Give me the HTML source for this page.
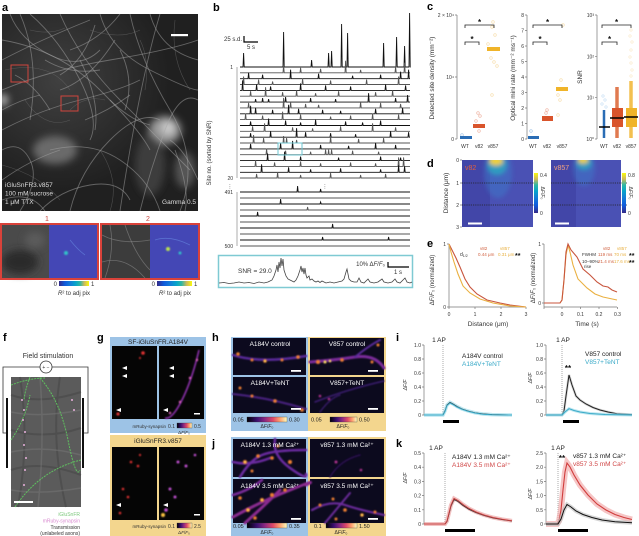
<!DOCTYPE html>
<html><head><meta charset="utf-8">
<style>
html,body{margin:0;padding:0;background:#fff;}
svg{display:block;font-family:"Liberation Sans","DejaVu Sans",sans-serif;}
.pl{font-weight:bold;font-size:11px;fill:#000}
.t{font-size:6px;fill:#333}
.s{font-size:5px;fill:#333}
.w{font-size:6.5px;fill:#fff}
</style></head><body>
<svg width="639" height="536" viewBox="0 0 639 536" xmlns="http://www.w3.org/2000/svg">
<defs>
 <clipPath id="ca"><rect x="2" y="14" width="196" height="197"/></clipPath>
 <clipPath id="cd1"><rect x="462" y="160" width="71" height="67"/></clipPath>
 <clipPath id="cd2"><rect x="551" y="160" width="70" height="67"/></clipPath>
 <filter id="b4" x="-50%" y="-50%" width="200%" height="200%"><feGaussianBlur stdDeviation="4"/></filter>
 <filter id="b2" x="-50%" y="-50%" width="200%" height="200%"><feGaussianBlur stdDeviation="2"/></filter>
 <filter id="b1" x="-50%" y="-50%" width="200%" height="200%"><feGaussianBlur stdDeviation="0.7"/></filter>
 <radialGradient id="ga" cx="60" cy="80" r="110" gradientUnits="userSpaceOnUse">
  <stop offset="0" stop-color="#404040"/><stop offset="1" stop-color="#202020"/></radialGradient>
 <linearGradient id="par" x1="0" x2="1" y1="0" y2="0">
  <stop offset="0" stop-color="#352a87"/><stop offset=".2" stop-color="#0f5cdd"/><stop offset=".4" stop-color="#1481d6"/>
  <stop offset=".55" stop-color="#06a4ca"/><stop offset=".7" stop-color="#2eb7a4"/><stop offset=".85" stop-color="#d1bb59"/><stop offset="1" stop-color="#f9fb0e"/></linearGradient>
 <linearGradient id="parv" x1="0" x2="0" y1="1" y2="0">
  <stop offset="0" stop-color="#352a87"/><stop offset=".2" stop-color="#0f5cdd"/><stop offset=".4" stop-color="#1481d6"/>
  <stop offset=".55" stop-color="#06a4ca"/><stop offset=".7" stop-color="#2eb7a4"/><stop offset=".85" stop-color="#d1bb59"/><stop offset="1" stop-color="#f9fb0e"/></linearGradient>
 <linearGradient id="inf" x1="0" x2="1" y1="0" y2="0">
  <stop offset="0" stop-color="#000004"/><stop offset=".25" stop-color="#3b0f70"/><stop offset=".45" stop-color="#8c2981"/>
  <stop offset=".65" stop-color="#de4968"/><stop offset=".82" stop-color="#fe9f6d"/><stop offset="1" stop-color="#fcfdbf"/></linearGradient>
</defs>

<!-- ============ PANEL A ============ -->
<text class="pl" x="2" y="11">a</text>
<g clip-path="url(#ca)">
 <rect x="2" y="14" width="196" height="197" fill="url(#ga)"/>
 <g filter="url(#b4)">
  <ellipse cx="55" cy="150" rx="22" ry="14" fill="#6a6a6a"/>
  <ellipse cx="165" cy="130" rx="16" ry="14" fill="#9a9a9a"/>
  <ellipse cx="168" cy="128" rx="6" ry="6" fill="#d0d0d0"/>
  <ellipse cx="3" cy="100" rx="5" ry="6" fill="#bbb"/>
  <ellipse cx="150" cy="165" rx="15" ry="30" fill="#3c3c3c"/>
  <ellipse cx="185" cy="170" rx="10" ry="18" fill="#555"/>
 </g>
 <g stroke="#a8a8a8" stroke-opacity=".5" fill="none" stroke-width=".9">
  <path d="M2,60 Q40,40 90,20"/><path d="M2,90 Q50,70 110,60 T198,40"/><path d="M20,14 Q40,60 30,120"/>
  <path d="M60,14 Q80,60 120,100 T190,170"/><path d="M2,130 Q40,110 80,100 T140,80"/><path d="M100,14 Q110,50 150,70 T198,90"/>
  <path d="M130,14 Q140,60 170,110 T180,211"/><path d="M2,180 Q30,160 60,150"/><path d="M50,150 Q90,140 120,160 T160,211"/>
  <path d="M70,211 Q80,170 110,140 T160,120"/><path d="M140,211 Q150,170 165,130 T198,100"/><path d="M2,40 Q60,50 100,90 T150,150"/>
  <path d="M30,14 Q60,40 80,80 T90,140"/><path d="M150,14 Q160,50 198,60"/><path d="M160,14 Q140,80 120,211"/>
  <path d="M2,110 Q20,100 40,95"/><path d="M110,100 Q130,120 150,125"/><path d="M170,140 Q185,150 198,180"/>
  <path d="M175,150 Q190,190 185,211"/><path d="M2,200 Q30,190 45,211"/><path d="M80,60 Q100,100 95,130"/>
  <path d="M60,90 Q90,80 115,40"/><path d="M10,14 Q20,40 50,55 T100,50"/><path d="M40,211 Q60,190 90,185 T130,200"/>
  <path d="M2,150 Q20,140 30,160 T20,211"/><path d="M120,14 Q100,40 70,50"/><path d="M85,120 Q110,110 130,95"/>
  <path d="M45,60 Q70,75 100,70"/><path d="M15,75 Q35,85 50,110"/><path d="M95,25 Q85,60 60,75"/><path d="M120,50 Q135,80 125,110"/>
 </g>
 <g stroke="#777" stroke-opacity=".5" fill="none" stroke-width=".6">
  <path d="M5,70 Q50,60 70,90"/><path d="M90,30 Q120,40 140,30"/><path d="M25,100 Q45,130 70,120"/>
  <path d="M100,150 Q120,180 110,211"/><path d="M175,20 Q170,60 190,90"/><path d="M2,165 Q40,175 60,200"/>
  <path d="M30,30 Q50,35 65,28"/><path d="M70,110 Q85,95 105,100"/><path d="M140,40 Q150,60 145,90"/>
 </g>
</g>
<rect x="11" y="65" width="17" height="17" fill="none" stroke="#d0453d" stroke-width="1"/>
<rect x="61" y="96" width="17" height="15" fill="none" stroke="#d0453d" stroke-width="1"/>
<rect x="171" y="34" width="17" height="2.2" fill="#fff"/>
<text x="5" y="187" style="font-size:6.5px;fill:#ddd">iGluSnFR3.v857</text>
<text x="5" y="195.5" style="font-size:6.5px;fill:#ddd">100 mM sucrose</text>
<text x="5" y="204" style="font-size:6.5px;fill:#ddd">1 μM TTX</text>
<text x="196" y="204" text-anchor="end" style="font-size:6.5px;fill:#ddd">Gamma 0.5</text>

<text x="47" y="221" text-anchor="middle" style="font-size:7px;fill:#c9473f">1</text>
<text x="148" y="221" text-anchor="middle" style="font-size:7px;fill:#c9473f">2</text>
<!-- inset 1 -->
<rect x="2" y="225" width="47" height="53" fill="#4a4a4a"/>
<ellipse cx="20" cy="262" rx="18" ry="12" fill="#2c2c2c" filter="url(#b4)"/>
<ellipse cx="35" cy="240" rx="10" ry="8" fill="#5c5c5c" filter="url(#b4)"/>
<rect x="49" y="225" width="48" height="53" fill="#4447b5"/>
<circle cx="66" cy="253" r="2" fill="#30c0c8" filter="url(#b1)"/>
<path d="M70,240 Q78,250 85,255" stroke="#5a70d0" stroke-width=".8" fill="none"/>
<rect x="1" y="224" width="97" height="55" fill="none" stroke="#d9423a" stroke-width="2"/>
<!-- inset 2 -->
<rect x="102" y="225" width="48" height="53" fill="#3c3c3c"/>
<g stroke="#8a8a8a" stroke-opacity=".6" fill="none" stroke-width=".8">
 <path d="M102,235 Q120,245 150,240"/><path d="M110,225 Q115,250 105,278"/><path d="M125,225 Q135,255 150,270"/><path d="M102,262 Q125,255 145,278"/>
</g>
<rect x="150" y="225" width="48" height="53" fill="#4447b5"/>
<circle cx="168" cy="249" r="2" fill="#b8e050" filter="url(#b1)"/>
<circle cx="180" cy="253" r="1.5" fill="#30c0c8" filter="url(#b1)"/>
<path d="M155,240 Q170,235 190,245" stroke="#5a70d0" stroke-width=".8" fill="none"/>
<rect x="101" y="224" width="98" height="55" fill="none" stroke="#d9423a" stroke-width="2"/>
<!-- colorbars -->
<rect x="59" y="281" width="30" height="5" fill="url(#par)"/>
<text class="t" x="57" y="286" text-anchor="end">0</text><text class="t" x="91" y="286">1</text>
<text class="t" x="74" y="295" text-anchor="middle"><tspan font-style="italic">R</tspan>² to adj pix</text>
<rect x="157" y="281" width="35" height="5" fill="url(#par)"/>
<text class="t" x="155" y="286" text-anchor="end">0</text><text class="t" x="194" y="286">1</text>
<text class="t" x="175" y="295" text-anchor="middle"><tspan font-style="italic">R</tspan>² to adj pix</text>

<!-- ============ PANEL B ============ -->
<text class="pl" x="213" y="11">b</text>
<text class="t" x="242" y="41" text-anchor="end">25 s.d.</text>
<path d="M244,36 V42 H258" stroke="#000" stroke-width="1.2" fill="none"/>
<text class="t" x="251" y="49" text-anchor="middle">5 s</text>
<text class="s" x="233" y="69" text-anchor="end">1</text>
<text class="s" x="233" y="180" text-anchor="end">20</text>
<line x1="237" y1="67" x2="237" y2="178" stroke="#999" stroke-width=".8"/>
<text class="s" x="230" y="188" text-anchor="middle">⋮</text>
<text class="s" x="325" y="188" text-anchor="middle">⋮</text>
<text class="s" x="233" y="194" text-anchor="end">491</text>
<text class="s" x="233" y="248" text-anchor="end">500</text>
<line x1="237" y1="192" x2="237" y2="246" stroke="#999" stroke-width=".8"/>
<text class="t" transform="translate(211,153) rotate(-90)" text-anchor="middle">Site no. (sorted by SNR)</text>
<g fill="none" stroke-width=".9" stroke-linejoin="miter">
<path stroke="#111" d="M240,67 H243 l.6,-14 l.6,14 H283 l.6,-35 l.6,35 H311 l.6,-7 l.6,7 H328 l.6,-14 l.6,14 H331 l.6,-16 l.6,16 H341 l.6,-43 l.6,43 H347 l.6,-34 l.6,34 H383 l.6,-24 l.6,24 H396 l.6,-30 l.6,30 H404 l.6,-21 l.6,21 H409 l.6,-54 l.6,54 H410"/>
<path stroke="#555" d="M240,72.8 H283 l.6,-8 l.6,8 H300 l.6,-5 l.6,5 H320 l.6,-4 l.6,4 H345 l.6,-12 l.6,12 H360 l.6,-3 l.6,3 H395 l.6,-6 l.6,6 H404 l.6,-10 l.6,10 H410"/>
<path stroke="#111" d="M240,78.7 H248 l.6,-6 l.6,6 H262 l.6,-4 l.6,4 H290 l.6,-9 l.6,9 H318 l.6,-5 l.6,5 H352 l.6,-3 l.6,3 H380 l.6,-4 l.6,4 H400 l.6,-7 l.6,7 H408 l.6,-9 l.6,9 H410"/>
<path stroke="#555" d="M240,84.5 H243 l.6,-8 l.6,8 H258 l.6,-5 l.6,5 H272 l.6,-3 l.6,3 H302 l.6,-6 l.6,6 H330 l.6,-4 l.6,4 H366 l.6,-5 l.6,5 H398 l.6,-8 l.6,8 H410"/>
<path stroke="#111" d="M240,90.4 H242 l.6,-10 l.6,10 H256 l.6,-6 l.6,6 H270 l.6,-4 l.6,4 H300 l.6,-7 l.6,7 H325 l.6,-5 l.6,5 H350 l.6,-4 l.6,4 H385 l.6,-6 l.6,6 H405 l.6,-5 l.6,5 H410"/>
<path stroke="#555" d="M240,96.2 H250 l.6,-5 l.6,5 H265 l.6,-9 l.6,9 H282 l.6,-4 l.6,4 H296 l.6,-6 l.6,6 H315 l.6,-3 l.6,3 H338 l.6,-5 l.6,5 H375 l.6,-4 l.6,4 H392 l.6,-6 l.6,6 H410"/>
<path stroke="#111" d="M240,102.1 H255 l.6,-3 l.6,3 H262 l.6,-4 l.6,4 H268 l.6,-3 l.6,3 H285 l.6,-5 l.6,5 H310 l.6,-4 l.6,4 H335 l.6,-3 l.6,3 H368 l.6,-9 l.6,9 H395 l.6,-4 l.6,4 H407 l.6,-7 l.6,7 H410"/>
<path stroke="#555" d="M240,107.9 H248 l.6,-5 l.6,5 H283 l.6,-10 l.6,10 H290 l.6,-6 l.6,6 H305 l.6,-4 l.6,4 H318 l.6,-3 l.6,3 H360 l.6,-6 l.6,6 H380 l.6,-5 l.6,5 H400 l.6,-4 l.6,4 H410"/>
<path stroke="#111" d="M240,113.8 H250 l.6,-8 l.6,8 H255 l.6,-6 l.6,6 H272 l.6,-4 l.6,4 H288 l.6,-9 l.6,9 H298 l.6,-5 l.6,5 H322 l.6,-4 l.6,4 H340 l.6,-3 l.6,3 H375 l.6,-5 l.6,5 H402 l.6,-6 l.6,6 H410"/>
<path stroke="#555" d="M240,119.6 H245 l.6,-6 l.6,6 H262 l.6,-4 l.6,4 H282 l.6,-8 l.6,8 H300 l.6,-5 l.6,5 H330 l.6,-3 l.6,3 H350 l.6,-4 l.6,4 H372 l.6,-6 l.6,6 H398 l.6,-5 l.6,5 H410"/>
<path stroke="#111" d="M240,125.5 H250 l.6,-4 l.6,4 H268 l.6,-7 l.6,7 H285 l.6,-5 l.6,5 H300 l.6,-3 l.6,3 H315 l.6,-6 l.6,6 H345 l.6,-4 l.6,4 H362 l.6,-3 l.6,3 H380 l.6,-5 l.6,5 H410"/>
<path stroke="#555" d="M240,131.3 H252 l.6,-5 l.6,5 H264 l.6,-8 l.6,8 H292 l.6,-4 l.6,4 H312 l.6,-3 l.6,3 H340 l.6,-5 l.6,5 H372 l.6,-8 l.6,8 H395 l.6,-4 l.6,4 H410"/>
<path stroke="#111" d="M240,137.2 H250 l.6,-4 l.6,4 H270 l.6,-6 l.6,6 H296 l.6,-9 l.6,9 H305 l.6,-5 l.6,5 H330 l.6,-4 l.6,4 H355 l.6,-3 l.6,3 H390 l.6,-6 l.6,6 H408 l.6,-5 l.6,5 H410"/>
<path stroke="#555" d="M240,143 H253 l.6,-8 l.6,8 H263 l.6,-5 l.6,5 H283 l.6,-7 l.6,7 H286 l.6,-5 l.6,5 H296 l.6,-3 l.6,3 H330 l.6,-7 l.6,7 H358 l.6,-4 l.6,4 H383 l.6,-5 l.6,5 H410"/>
<path stroke="#111" d="M240,148.9 H250 l.6,-5 l.6,5 H280 l.6,-6 l.6,6 H292 l.6,-8 l.6,8 H320 l.6,-4 l.6,4 H348 l.6,-3 l.6,3 H375 l.6,-6 l.6,6 H395 l.6,-4 l.6,4 H410"/>
<path stroke="#555" d="M240,154.7 H266 l.6,-6 l.6,6 H285 l.6,-4 l.6,4 H310 l.6,-3 l.6,3 H325 l.6,-5 l.6,5 H328 l.6,-5 l.6,5 H331 l.6,-5 l.6,5 H352 l.6,-4 l.6,4 H378 l.6,-3 l.6,3 H410"/>
<path stroke="#111" d="M240,160.6 H267 l.6,-7 l.6,7 H284 l.6,-9 l.6,9 H300 l.6,-4 l.6,4 H338 l.6,-3 l.6,3 H380 l.6,-4 l.6,4 H400 l.6,-3 l.6,3 H410"/>
<path stroke="#555" d="M240,166.4 H255 l.6,-6 l.6,6 H274 l.6,-4 l.6,4 H300 l.6,-5 l.6,5 H320 l.6,-3 l.6,3 H350 l.6,-4 l.6,4 H375 l.6,-3 l.6,3 H398 l.6,-9 l.6,9 H403 l.6,-9 l.6,9 H410"/>
<path stroke="#111" d="M240,172.3 H261 l.6,-8 l.6,8 H288 l.6,-5 l.6,5 H310 l.6,-3 l.6,3 H340 l.6,-4 l.6,4 H380 l.6,-3 l.6,3 H398 l.6,-7 l.6,7 H404 l.6,-6 l.6,6 H410"/>
<path stroke="#555" d="M240,178 H256 l.6,-4 l.6,4 H277 l.6,-6 l.6,6 H300 l.6,-3 l.6,3 H330 l.6,-5 l.6,5 H360 l.6,-3 l.6,3 H385 l.6,-4 l.6,4 H410"/>
<path stroke="#111" d="M240,192 H297 l.6,-6 l.6,6 H320 l.6,-3 l.6,3 H410"/>
<path stroke="#555" d="M240,198 H410"/>
<path stroke="#111" d="M240,204 H280 l.6,-5 l.6,5 H320 l.6,-2 l.6,2 H410"/>
<path stroke="#555" d="M240,210 H307 l.6,-3 l.6,3 H410"/>
<path stroke="#111" d="M240,216 H257 l.6,-4 l.6,4 H410"/>
<path stroke="#555" d="M240,222 H410"/>
<path stroke="#111" d="M240,228 H332 l.6,-4 l.6,4 H410"/>
<path stroke="#555" d="M240,234 H410"/>
<path stroke="#111" d="M240,240 H322 l.6,-3 l.6,3 H388 l.6,-3 l.6,3 H410"/>
<path stroke="#555" d="M240,246 H410"/>
</g>
<rect x="278" y="143" width="24" height="12" fill="none" stroke="#6fc5d0" stroke-width="1"/>
<rect x="218.5" y="255.5" width="194" height="32" fill="none" stroke="#7fcad3" stroke-width="1.5"/>
<text x="238" y="273" style="font-size:6.5px;fill:#333">SNR = 29.0</text>
<text x="385" y="266" text-anchor="end" style="font-size:6px;fill:#333">10% Δ<tspan font-style="italic">F</tspan>/<tspan font-style="italic">F</tspan>₀</text>
<path d="M388,262 V267 H409" stroke="#000" stroke-width="1.2" fill="none"/>
<text class="t" x="398" y="274" text-anchor="middle">1 s</text>
<polyline fill="none" stroke="#444" stroke-width=".8" points="219,283 224,282.5 229,283.5 234,283 239,282 244,283 249,282.5 254,283.5 259,282 264,283 268,282 272,280 274,276 276,270 277,265 278,272 279,262 280,268 281,258 282,266 283,259 284,270 285,273 286,276 288,279 290,280 292,281 294,282 296,280 298,276 300,270 301,266 302,272 303,268 304,274 305,268 306,275 307,278 309,276 310,280 312,279 314,281 316,282 318,281 320,282.5 322,281 324,282 326,283 330,282 334,283 338,282 342,281 344,279 346,272 347,269 348,274 349,279 351,281 354,282 357,282 359,278 361,282 364,283 368,279 370,282 374,283 378,282 382,279 384,282 388,283 392,282 395,279 397,282 400,283 403,280 405,278 407,282 410,283 412,282"/>

<!-- ============ PANEL C ============ -->
<text class="pl" x="427" y="10">c</text>
<g stroke="#777" stroke-width=".7" fill="none">
 <path d="M457,15 V139 M455,15 H457 M455,77 H457 M455,139 H457"/>
 <path d="M527,15 V139 M525,15 H527 M525,30.5 H527 M525,46 H527 M525,61.5 H527 M525,77 H527 M525,92.5 H527 M525,108 H527 M525,123.5 H527 M525,139 H527"/>
 <path d="M597,15 V139 M595,15 H597 M595,56.3 H597 M595,97.7 H597 M595,139 H597"/>
</g>
<text class="s" x="454" y="17" text-anchor="end">2 × 10⁴</text>
<text class="s" x="454" y="79" text-anchor="end">10⁴</text>
<text class="s" x="454" y="141" text-anchor="end">0</text>
<text class="t" transform="translate(434,78) rotate(-90)" text-anchor="middle" style="font-size:6.5px">Detected site density (mm⁻²)</text>
<g class="s" text-anchor="end">
 <text x="524" y="17">8</text><text x="524" y="32.5">7</text><text x="524" y="48">6</text><text x="524" y="63.5">5</text>
 <text x="524" y="79">4</text><text x="524" y="94.5">3</text><text x="524" y="110">2</text><text x="524" y="125.5">1</text><text x="524" y="141">0</text>
</g>
<text class="t" transform="translate(515,78) rotate(-90)" text-anchor="middle" style="font-size:6.5px">Optical mini rate (mm⁻² ms⁻¹)</text>
<text class="s" x="594" y="17" text-anchor="end">10³</text>
<text class="s" x="594" y="58.3" text-anchor="end">10²</text>
<text class="s" x="594" y="99.7" text-anchor="end">10¹</text>
<text class="s" x="594" y="141" text-anchor="end">10⁰</text>
<text class="t" transform="translate(582,77) rotate(-90)" text-anchor="middle" style="font-size:6.5px">SNR</text>
<g class="s" text-anchor="middle">
 <text x="465" y="148">WT</text><text x="479" y="148">v82</text><text x="493" y="148">v857</text>
 <text x="533" y="148">WT</text><text x="547" y="148">v82</text><text x="562" y="148">v857</text>
 <text x="604" y="148">WT</text><text x="617" y="148">v82</text><text x="631" y="148">v857</text>
</g>
<!-- dots -->
<g fill="none" stroke-width=".6" opacity=".55">
 <g stroke="#f0c060"><circle cx="493" cy="22" r="1.3"/><circle cx="492" cy="27" r="1.3"/><circle cx="495" cy="35" r="1.3"/><circle cx="488" cy="44" r="1.3"/><circle cx="491" cy="58" r="1.3"/><circle cx="494" cy="62" r="1.3"/><circle cx="497" cy="66" r="1.3"/><circle cx="492" cy="95" r="1.3"/>
 <circle cx="563" cy="25" r="1.3"/><circle cx="561" cy="80" r="1.3"/><circle cx="558" cy="95" r="1.3"/><circle cx="560" cy="100" r="1.3"/><circle cx="558" cy="115" r="1.3"/></g>
 <g stroke="#e07050"><circle cx="478" cy="113" r="1.3"/><circle cx="480" cy="116" r="1.3"/><circle cx="476" cy="121" r="1.3"/><circle cx="479" cy="131" r="1.3"/><circle cx="547" cy="110" r="1.3"/><circle cx="546" cy="113" r="1.3"/></g>
 <g stroke="#5090d0"><circle cx="462" cy="135" r="1.3"/><circle cx="531" cy="131" r="1.3"/></g>
</g>
<rect x="460" y="136" width="12" height="3" fill="#2a6db5"/>
<rect x="473" y="124" width="12" height="4" fill="#d9542b"/>
<rect x="487" y="47" width="13" height="4" fill="#f0b429"/>
<rect x="528" y="136" width="11" height="3" fill="#2a6db5"/>
<rect x="542" y="116" width="11" height="5" fill="#d9542b"/>
<rect x="556" y="87" width="12" height="4" fill="#f0b429"/>
<!-- SNR plot -->
<g opacity=".35" fill="none" stroke-width=".6">
 <g stroke="#5aa0e0"><circle cx="603" cy="96" r="1.2"/><circle cx="605" cy="100" r="1.2"/><circle cx="602" cy="104" r="1.2"/><circle cx="606" cy="107" r="1.2"/></g>
 <g stroke="#f0c060"><circle cx="631" cy="30" r="1.2"/><circle cx="630" cy="36" r="1.2"/><circle cx="632" cy="42" r="1.2"/><circle cx="631" cy="50" r="1.2"/><circle cx="630" cy="57" r="1.2"/><circle cx="631" cy="63" r="1.2"/><circle cx="632" cy="70" r="1.2"/><circle cx="631" cy="76" r="1.2"/></g>
</g>
<line x1="604" y1="110" x2="604" y2="138" stroke="#2a6db5" stroke-width="2.5"/>
<line x1="617" y1="87" x2="617" y2="138" stroke="#e07a50" stroke-width="3.5"/>
<rect x="612" y="108" width="11" height="19" fill="#d9542b"/>
<line x1="631" y1="81" x2="631" y2="138" stroke="#f3c050" stroke-width="3.5"/>
<rect x="626" y="108" width="11" height="19" fill="#f0b429"/>
<line x1="599" y1="127" x2="610" y2="127" stroke="#000" stroke-width="1.5"/>
<line x1="610" y1="118" x2="624" y2="118" stroke="#000" stroke-width="1.5"/>
<line x1="624" y1="117" x2="638" y2="117" stroke="#000" stroke-width="1.5"/>
<!-- brackets -->
<g stroke="#222" stroke-width=".8" fill="none">
 <path d="M465,28 V25 H494 V28"/><path d="M465,45 V42 H479 V45"/>
 <path d="M533,28 V25 H562 V28"/><path d="M533,45 V42 H547 V45"/>
 <path d="M602,28 V25 H631 V28"/><path d="M602,45 V42 H617 V45"/>
</g>
<g style="font-size:8px;font-weight:bold" text-anchor="middle" fill="#111">
 <text x="479.5" y="25">*</text><text x="472" y="42">*</text>
 <text x="547.5" y="25">*</text><text x="540" y="42">*</text>
 <text x="616.5" y="25">*</text><text x="609.5" y="42">*</text>
</g>

<!-- ============ PANEL D ============ -->
<text class="pl" x="427" y="167">d</text>
<g clip-path="url(#cd1)">
 <rect x="462" y="160" width="71" height="67" fill="#4246a8"/>
 <rect x="490" y="160" width="43" height="67" fill="#4a51b4"/>
 <g filter="url(#b2)">
  <ellipse cx="498" cy="172" rx="14" ry="26" fill="#3a7fcc" opacity=".45"/>
  <ellipse cx="497" cy="165" rx="10" ry="10" fill="#2aa6bf" opacity=".85"/>
  <ellipse cx="496" cy="161" rx="7" ry="4.5" fill="#f0d030"/>
 </g>
</g>
<g clip-path="url(#cd2)">
 <rect x="551" y="160" width="70" height="67" fill="#4246a8"/>
 <rect x="576" y="160" width="45" height="67" fill="#4a51b4"/>
 <g filter="url(#b2)">
  <ellipse cx="584" cy="168" rx="11" ry="18" fill="#3a7fcc" opacity=".45"/>
  <ellipse cx="584" cy="163" rx="8" ry="7" fill="#2aa6bf" opacity=".85"/>
  <ellipse cx="583" cy="160" rx="5.5" ry="3.5" fill="#f0d030"/>
 </g>
</g>
<g stroke="#222" stroke-width=".8" stroke-dasharray="1.2,1" fill="none">
 <path d="M462,183 H539 M462,205 H539 M551,183 H627 M551,205 H627"/>
</g>
<text x="465" y="170" style="font-size:7px;fill:#e0603f">v82</text>
<text x="554" y="170" style="font-size:7px;fill:#f0a080">v857</text>
<rect x="468" y="222.5" width="14" height="2" fill="#fff"/>
<rect x="555" y="222.5" width="14" height="2" fill="#fff"/>
<g stroke="#777" stroke-width=".7"><path d="M460,160 H462 M460,183 H462 M460,205 H462 M460,227 H462"/></g>
<g class="s" text-anchor="end"><text x="459" y="162">0</text><text x="459" y="185">1</text><text x="459" y="207">2</text><text x="459" y="229">3</text></g>
<text class="t" transform="translate(448,193) rotate(-90)" text-anchor="middle" style="font-size:6.5px">Distance (μm)</text>
<rect x="534" y="173" width="4" height="40" fill="url(#parv)"/>
<rect x="622" y="173" width="4" height="40" fill="url(#parv)"/>
<text class="s" x="540" y="177">0.4</text><text class="s" x="540" y="215">0</text>
<text class="s" x="628" y="177">0.8</text><text class="s" x="628" y="215">0</text>
<text class="s" transform="translate(541,193) rotate(90)" text-anchor="middle">Δ<tspan font-style="italic">F</tspan>/<tspan font-style="italic">F</tspan>₀</text>
<text class="s" transform="translate(629,193) rotate(90)" text-anchor="middle">Δ<tspan font-style="italic">F</tspan>/<tspan font-style="italic">F</tspan>₀</text>

<!-- ============ PANEL E ============ -->
<text class="pl" x="427" y="247">e</text>
<g stroke="#777" stroke-width=".7" fill="none">
 <path d="M449,244 V307 H526 M447,244 H449 M447,307 H449 M449,307 V309 M475,307 V309 M501,307 V309 M526,307 V309"/>
 <path d="M544,244 V307 H617 M542,244 H544 M542,303 H544 M544,307 V309 M562,307 V309 M580.5,307 V309 M599,307 V309 M617.5,307 V309"/>
</g>
<g class="s" text-anchor="middle"><text x="449" y="316">0</text><text x="475" y="316">1</text><text x="501" y="316">2</text><text x="526" y="316">3</text>
<text x="562" y="316">0</text><text x="580.5" y="316">0.1</text><text x="599" y="316">0.2</text><text x="617.5" y="316">0.3</text></g>
<text class="s" x="446" y="246" text-anchor="end">1</text><text class="s" x="446" y="309" text-anchor="end">0</text>
<text class="s" x="541" y="246" text-anchor="end">1</text><text class="s" x="541" y="305" text-anchor="end">0</text>
<text x="488" y="326" text-anchor="middle" style="font-size:6.5px;fill:#333">Distance (μm)</text>
<text x="587" y="326" text-anchor="middle" style="font-size:6.5px;fill:#333">Time (s)</text>
<text class="t" transform="translate(434,280) rotate(-90)" text-anchor="middle">Δ<tspan font-style="italic">F</tspan>/<tspan font-style="italic">F</tspan>₀ (normalized)</text>
<text class="t" transform="translate(535,278) rotate(-90)" text-anchor="middle">Δ<tspan font-style="italic">F</tspan>/<tspan font-style="italic">F</tspan>₀ (normalized)</text>
<polyline fill="none" stroke="#c8553d" stroke-width="1.1" points="449,244 452,250 456,258 460,267 465,279 470,287 477,294 487,300 500,303 510,305 526,307"/>
<polyline fill="none" stroke="#eab040" stroke-width="1.1" points="449,244 451,252 454,262 458,274 463,286 470,293 480,299 493,303 510,306 526,307"/>
<polyline fill="none" stroke="#eab040" stroke-width="1.1" points="544,303 560,303 562,300 564,280 566,255 568,245 570,252 573,265 578,279 587,288 595,294 603,297 617,300"/>
<polyline fill="none" stroke="#c8553d" stroke-width="1.1" points="544,303 560,303 562,300 564,280 566,252 568,244 571,250 577,257 583,269 590,275 597,282 603,286 608,287 612,290 617,292"/>
<text x="480" y="250" style="font-size:4.5px;fill:#d0603f">v82</text>
<text x="500" y="250" style="font-size:4.5px;fill:#e8b040">v857</text>
<text x="460" y="256" style="font-size:5px;fill:#333">d<tspan dy="1" style="font-size:3.5px">1/2</tspan></text>
<text x="478" y="256" style="font-size:4.5px;fill:#d0603f">0.44 μm</text>
<text x="498" y="256" style="font-size:4.5px;fill:#e8b040">0.31 μm</text>
<text x="515" y="258" style="font-size:7px;font-weight:bold;fill:#111">**</text>
<text x="603" y="250" style="font-size:4.5px;fill:#d0603f">v82</text>
<text x="617" y="250" style="font-size:4.5px;fill:#e8b040">v857</text>
<text x="582" y="256" style="font-size:4.5px;fill:#333">FWHM</text>
<text x="598" y="256" style="font-size:4.5px;fill:#d0603f">119 ms</text>
<text x="614" y="256" style="font-size:4.5px;fill:#e8b040">70 ms</text>
<text x="629" y="258" style="font-size:7px;font-weight:bold;fill:#111">**</text>
<text x="582" y="263" style="font-size:4.5px;fill:#333">10–90%</text>
<text x="598" y="263" style="font-size:4.5px;fill:#d0603f">21.4 ms</text>
<text x="614" y="263" style="font-size:4.5px;fill:#e8b040">17.6 ms</text>
<text x="629" y="265" style="font-size:7px;font-weight:bold;fill:#111">**</text>
<text x="584" y="268" style="font-size:4.5px;fill:#333">rise</text>

<!-- ============ PANEL F ============ -->
<text class="pl" x="3" y="341">f</text>
<text x="48" y="358" text-anchor="middle" style="font-size:7px;fill:#333">Field stimulation</text>
<path d="M40,367 H3 V433 H7 M52,367 H88 V433 H84" stroke="#333" stroke-width=".8" fill="none"/>
<circle cx="46" cy="367" r="6" fill="#fff" stroke="#333" stroke-width=".8"/>
<text x="46" y="369" text-anchor="middle" style="font-size:5px;fill:#333">+ −</text>
<rect x="11" y="377" width="70" height="130" fill="#5b5b5b"/>
<g stroke="#444" stroke-width="2" opacity=".5" fill="none">
 <path d="M11,395 Q40,405 81,392"/><path d="M11,430 Q45,440 81,428"/><path d="M11,470 Q40,460 81,475"/><path d="M20,377 Q30,440 18,507"/><path d="M60,377 Q50,440 66,507"/>
</g>
<g stroke="#777" stroke-width="1.5" opacity=".5" fill="none">
 <path d="M11,412 Q40,418 81,410"/><path d="M11,452 Q45,445 81,455"/><path d="M11,490 Q40,495 81,488"/><path d="M40,377 Q45,440 38,507"/>
</g>
<g stroke="#5fbf5f" stroke-width="1" stroke-dasharray="2,1" fill="none">
 <path d="M11,385 Q30,378 45,378"/><path d="M40,378 Q60,400 68,440 T80,470"/><path d="M11,440 Q25,420 30,395"/><path d="M15,507 Q40,470 81,460"/><path d="M30,377 Q25,390 24,400"/>
</g>
<g fill="#e8b0dc">
 <circle cx="22" cy="400" r="1"/><circle cx="24" cy="410" r="1"/><circle cx="23" cy="420" r="1"/><circle cx="25" cy="432" r="1"/><circle cx="24" cy="445" r="1"/><circle cx="26" cy="458" r="1"/><circle cx="25" cy="470" r="1"/><circle cx="24" cy="485" r="1"/><circle cx="72" cy="400" r="1"/><circle cx="74" cy="410" r="1"/>
</g>
<rect x="6" y="398" width="2" height="70" fill="#111"/>
<rect x="82" y="398" width="2" height="70" fill="#111"/>
<rect x="14" y="501" width="19" height="2" fill="#fff"/>
<text x="80" y="516" text-anchor="end" style="font-size:5px;fill:#7ec97e">iGluSnFR</text>
<text x="80" y="522.5" text-anchor="end" style="font-size:5px;fill:#d98ad0">mRuby-synapsin</text>
<text x="80" y="529" text-anchor="end" style="font-size:5px;fill:#333">Transmission</text>
<text x="80" y="535" text-anchor="end" style="font-size:5px;fill:#333">(unlabeled axons)</text>

<!-- ============ PANEL G ============ -->
<text class="pl" x="97" y="341">g</text>
<rect x="110" y="337" width="96" height="96" fill="#9dc3e6"/>
<rect x="110" y="435" width="96" height="101" fill="#f3d68e"/>
<text x="158" y="344" text-anchor="middle" style="font-size:6.5px;fill:#222">SF-iGluSnFR.A184V</text>
<text x="158" y="443" text-anchor="middle" style="font-size:6.5px;fill:#222">iGluSnFR3.v857</text>
<rect x="112" y="346" width="45" height="73" fill="#050505"/>
<rect x="159" y="346" width="45" height="73" fill="#050505"/>
<rect x="112" y="447" width="45" height="73" fill="#050505"/>
<rect x="159" y="447" width="45" height="73" fill="#050505"/>
<g filter="url(#b1)">
 <g fill="#e03030"><circle cx="143" cy="353" r="1.8"/><circle cx="140" cy="358" r="1"/><circle cx="118" cy="414" r="1.6"/><circle cx="131" cy="462" r="1.3"/><circle cx="138" cy="466" r="1.3"/><circle cx="123" cy="489" r="1.3"/><circle cx="128" cy="497" r="1.3"/><circle cx="120" cy="513" r="1.3"/><circle cx="140" cy="455" r="1.1"/></g>
 <path d="M199,350 Q192,380 182,400 T165,418" stroke="#9030b0" stroke-width="1.6" fill="none"/>
 <g fill="#e060c0"><circle cx="197" cy="360" r="1.2"/><circle cx="190" cy="378" r="1.2"/><circle cx="180" cy="402" r="1.2"/><circle cx="170" cy="413" r="1.2"/></g>
 <g fill="#c050d0"><circle cx="178" cy="462" r="1.5"/><circle cx="186" cy="466" r="1.5"/><circle cx="170" cy="489" r="1.5"/><circle cx="175" cy="497" r="1.5"/><circle cx="166" cy="510" r="1.8"/><circle cx="195" cy="455" r="1.3"/></g>
 <circle cx="163" cy="515" r="2" fill="#f8c040"/>
</g>
<g fill="#fff">
 <path d="M122,368 l5,-2 v4z M122,376 l5,-2 v4z M116,410 l5,-2 v4z M169,368 l5,-2 v4z M169,376 l5,-2 v4z M163,410 l5,-2 v4z M116,505 l5,-2 v4z M163,505 l5,-2 v4z"/>
 <rect x="194" y="413" width="6" height="1.5"/><rect x="194" y="514" width="6" height="1.5"/>
</g>
<text x="166" y="428" text-anchor="end" style="font-size:4.5px;fill:#333">mRuby-synapsin</text>
<text x="175" y="428" text-anchor="end" style="font-size:5px;fill:#333">0.1</text>
<rect x="177" y="423" width="15" height="5" fill="url(#inf)" stroke="#333" stroke-width=".3"/>
<text x="194" y="428" style="font-size:5px;fill:#333">0.5</text>
<text x="184" y="434" text-anchor="middle" style="font-size:4.5px;fill:#333">Δ<tspan font-style="italic">F</tspan>/<tspan font-style="italic">F</tspan>₀</text>
<text x="166" y="528" text-anchor="end" style="font-size:4.5px;fill:#333">mRuby-synapsin</text>
<text x="175" y="528" text-anchor="end" style="font-size:5px;fill:#333">0.1</text>
<rect x="177" y="523" width="15" height="5" fill="url(#inf)" stroke="#333" stroke-width=".3"/>
<text x="194" y="528" style="font-size:5px;fill:#333">2.5</text>
<text x="184" y="534" text-anchor="middle" style="font-size:4.5px;fill:#333">Δ<tspan font-style="italic">F</tspan>/<tspan font-style="italic">F</tspan>₀</text>

<!-- ============ PANEL H / J ============ -->
<text class="pl" x="212" y="341">h</text>
<text class="pl" x="212" y="447">j</text>
<rect x="231" y="337" width="77" height="94" fill="#9dc3e6"/>
<rect x="308" y="337" width="78" height="94" fill="#f3d68e"/>
<rect x="231" y="437" width="77" height="99" fill="#9dc3e6"/>
<rect x="308" y="437" width="78" height="99" fill="#f3d68e"/>
<g fill="#0c0a1e">
 <rect x="233" y="338" width="73" height="37"/><rect x="233" y="377" width="73" height="36"/>
 <rect x="310" y="338" width="74" height="37"/><rect x="310" y="377" width="74" height="36"/>
 <rect x="233" y="439" width="73" height="38"/><rect x="233" y="479" width="73" height="44"/>
 <rect x="310" y="439" width="74" height="38"/><rect x="310" y="479" width="74" height="44"/>
</g>
<g filter="url(#b1)" fill="none" stroke-linecap="round">
 <path d="M233,355 Q260,364 306,356" stroke="#5a2a9a" stroke-width="2.5"/>
 <path d="M310,362 Q335,360 355,357 T384,368" stroke="#7a2a9a" stroke-width="3"/>
 <path d="M355,357 Q370,345 380,340" stroke="#5a2a9a" stroke-width="2"/>
 <path d="M233,394 Q270,398 306,409" stroke="#4a2080" stroke-width="2"/>
 <path d="M315,402 Q345,390 384,381" stroke="#3a1a70" stroke-width="1.5"/>
 <path d="M320,412 Q330,398 340,395" stroke="#3a1a70" stroke-width="1.2"/>
 <path d="M240,477 Q250,460 262,455 T306,450" stroke="#6a2aa0" stroke-width="2.5"/>
 <path d="M233,462 Q250,466 270,458" stroke="#6a2aa0" stroke-width="2.5"/>
 <path d="M275,439 Q272,455 290,468 T306,474" stroke="#6a2aa0" stroke-width="2.5"/>
 <path d="M233,517 Q260,502 290,490 T306,485" stroke="#8a2a90" stroke-width="3"/>
 <path d="M245,523 Q265,505 280,490" stroke="#8a2a90" stroke-width="3"/>
 <path d="M233,495 Q250,490 262,480" stroke="#7a2a9a" stroke-width="2.5"/>
 <path d="M330,477 Q340,460 360,455" stroke="#2a1050" stroke-width="1.5"/>
 <path d="M312,510 Q330,500 345,505 T384,515" stroke="#6a2a9a" stroke-width="2.2"/>
 <path d="M325,523 Q340,505 350,493" stroke="#6a2a9a" stroke-width="2"/>
</g>
<g filter="url(#b1)">
 <g fill="#f08030"><circle cx="238" cy="354" r="1.8"/><circle cx="252" cy="360" r="1.5"/><circle cx="265" cy="361" r="1.8"/><circle cx="282" cy="360" r="1.5"/><circle cx="298" cy="357" r="1.8"/>
  <circle cx="240" cy="388" r="1.5"/><circle cx="252" cy="396" r="1.5"/><circle cx="275" cy="401" r="1.8"/><circle cx="302" cy="410" r="1.8"/>
  <circle cx="318" cy="362" r="2"/><circle cx="342" cy="360" r="1.8"/><circle cx="372" cy="362" r="1.5"/><circle cx="378" cy="345" r="1.5"/>
  <circle cx="245" cy="462" r="2"/><circle cx="258" cy="456" r="1.8"/><circle cx="272" cy="458" r="1.8"/><circle cx="290" cy="462" r="2"/><circle cx="252" cy="471" r="1.5"/><circle cx="278" cy="446" r="1.5"/>
  <circle cx="248" cy="510" r="2"/><circle cx="262" cy="500" r="2"/><circle cx="272" cy="495" r="2"/><circle cx="285" cy="490" r="1.8"/><circle cx="255" cy="518" r="1.8"/><circle cx="240" cy="498" r="1.8"/>
  <circle cx="320" cy="505" r="1.5"/><circle cx="333" cy="499" r="1.5"/><circle cx="345" cy="510" r="1.8"/><circle cx="362" cy="515" r="1.8"/><circle cx="375" cy="512" r="1.5"/><circle cx="336" cy="519" r="1.5"/>
 </g>
 <g fill="#fce060"><circle cx="265" cy="361" r="1"/><circle cx="325" cy="362" r="1.5"/><circle cx="330" cy="361" r="1.3"/><circle cx="262" cy="500" r="1"/><circle cx="248" cy="510" r="1"/><circle cx="245" cy="462" r="1"/><circle cx="362" cy="515" r="1"/></g>
 <g fill="#b03090"><circle cx="320" cy="396" r="1.3"/><circle cx="329" cy="399" r="1.3"/><circle cx="336" cy="462" r="1.5"/><circle cx="361" cy="470" r="1.3"/></g>
</g>
<g fill="#fff">
 <rect x="291" y="370" width="10" height="1.8"/><rect x="291" y="408" width="10" height="1.8"/>
 <rect x="368" y="370" width="10" height="1.8"/><rect x="368" y="408" width="10" height="1.8"/>
 <rect x="291" y="518" width="10" height="1.8"/><rect x="368" y="518" width="10" height="1.8"/>
</g>
<g class="w" text-anchor="middle">
 <text x="270" y="346">A184V control</text><text x="270" y="385">A184V+TeNT</text>
 <text x="347" y="346">V857 control</text><text x="347" y="385">V857+TeNT</text>
 <text x="270" y="447">A184V 1.3 mM Ca²⁺</text><text x="270" y="488">A184V 3.5 mM Ca²⁺</text>
 <text x="347" y="447">v857 1.3 mM Ca²⁺</text><text x="347" y="488">v857 3.5 mM Ca²⁺</text>
</g>
<g style="font-size:5.5px;fill:#222">
 <text x="233" y="421.5">0.05</text><text x="289" y="421.5">0.30</text>
 <text x="311" y="421.5">0.05</text><text x="359" y="421.5">0.50</text>
 <text x="233" y="528">0.05</text><text x="289" y="528">0.35</text>
 <text x="314" y="528">0.1</text><text x="359" y="528">1.50</text>
</g>
<rect x="247" y="417" width="40" height="5" fill="url(#inf)" stroke="#333" stroke-width=".3"/>
<rect x="330" y="417" width="27" height="5" fill="url(#inf)" stroke="#333" stroke-width=".3"/>
<rect x="247" y="523" width="40" height="5" fill="url(#inf)" stroke="#333" stroke-width=".3"/>
<rect x="326" y="523" width="31" height="5" fill="url(#inf)" stroke="#333" stroke-width=".3"/>
<g style="font-size:5px;fill:#222" text-anchor="middle">
 <text x="267" y="428">Δ<tspan font-style="italic">F</tspan>/<tspan font-style="italic">F</tspan>₀</text>
 <text x="343" y="428">Δ<tspan font-style="italic">F</tspan>/<tspan font-style="italic">F</tspan>₀</text>
 <text x="267" y="534">Δ<tspan font-style="italic">F</tspan>/<tspan font-style="italic">F</tspan>₀</text>
 <text x="341" y="534">Δ<tspan font-style="italic">F</tspan>/<tspan font-style="italic">F</tspan>₀</text>
</g>

<!-- ============ PANEL I / K ============ -->
<text class="pl" x="396" y="341">i</text>
<text class="pl" x="396" y="447">k</text>
<g stroke="#777" stroke-width=".7" fill="none">
 <path d="M424,345 V415 M422,345 H424 M422,359 H424 M422,373 H424 M422,387 H424 M422,401 H424 M422,415 H424"/>
 <path d="M546,345 V415 M544,345 H546 M544,359 H546 M544,373 H546 M544,387 H546 M544,401 H546 M544,415 H546"/>
 <path d="M424,453 V524 M422,453 H424 M422,467.2 H424 M422,481.4 H424 M422,495.6 H424 M422,509.8 H424 M422,524 H424"/>
 <path d="M546,453 V524 M544,453 H546 M544,467.2 H546 M544,481.4 H546 M544,495.6 H546 M544,509.8 H546 M544,524 H546"/>
</g>
<g class="s" text-anchor="end">
 <text x="421" y="347">1.0</text><text x="421" y="361">0.8</text><text x="421" y="375">0.6</text><text x="421" y="389">0.4</text><text x="421" y="403">0.2</text><text x="421" y="417">0</text>
 <text x="543" y="347">1.0</text><text x="543" y="361">0.8</text><text x="543" y="375">0.6</text><text x="543" y="389">0.4</text><text x="543" y="403">0.2</text><text x="543" y="417">0</text>
 <text x="421" y="455">0.5</text><text x="421" y="469.2">0.4</text><text x="421" y="483.4">0.3</text><text x="421" y="497.6">0.2</text><text x="421" y="511.8">0.1</text><text x="421" y="526">0</text>
 <text x="543" y="455">2.5</text><text x="543" y="469.2">2.0</text><text x="543" y="483.4">1.5</text><text x="543" y="497.6">1.0</text><text x="543" y="511.8">0.5</text><text x="543" y="526">0</text>
</g>
<g class="s" text-anchor="middle" font-style="italic">
 <text transform="translate(407,385) rotate(-90)">ΔF/F</text>
 <text transform="translate(532,378) rotate(-90)">ΔF/F</text>
 <text transform="translate(407,478) rotate(-90)">ΔF/F</text>
 <text transform="translate(532,494) rotate(-90)">ΔF/F</text>
</g>
<g stroke="#888" stroke-width=".7" stroke-dasharray="1,1" fill="none">
 <path d="M443,345 V415 M562,345 V415 M445,453 V524 M558,453 V524"/>
</g>
<g style="font-size:6.5px;fill:#222" text-anchor="middle">
 <text x="439" y="342">1 AP</text><text x="563" y="342">1 AP</text>
 <text x="436" y="450">1 AP</text><text x="558" y="450">1 AP</text>
</g>
<polyline fill="none" stroke="#8fd6e6" stroke-width="3.5" opacity=".6" points="424,415 443,415 445,411 447,405 450,402.4 453,404 457,406.5 462,409 468,411 475,412.8 483,414 492,414.6 512,415"/>
<polyline fill="none" stroke="#222" stroke-width=".9" points="424,415 443,415 445,411 447,405 450,402.4 453,404 457,406.5 462,409 468,411 475,412.8 483,414 492,414.6 512,415"/>
<polyline fill="none" stroke="#3aaac8" stroke-width="1" points="424,415 443,415 445,411.5 447,405.5 450,403 453,404.5 457,407 462,409.3 468,411.3 475,413 483,414.2 492,414.7 512,415"/>
<polyline fill="none" stroke="#bbb" stroke-width="2.5" opacity=".6" points="546,415 562,415 564,411 566,396 569,375 572,385 576,396 580,400 586,404 593,407.5 600,410 608,412 617,413.8 632,414.6"/>
<polyline fill="none" stroke="#222" stroke-width="1" points="546,415 562,415 564,411 566,396 569,375 572,385 576,396 580,400 586,404 593,407.5 600,410 608,412 617,413.8 632,414.6"/>
<polyline fill="none" stroke="#8fd6e6" stroke-width="3" opacity=".6" points="546,415 562,415 565,412 569,408.7 574,410.5 580,412 590,413.5 605,414.5 632,415"/>
<polyline fill="none" stroke="#3aaac8" stroke-width="1" points="546,415 562,415 565,412 569,408.7 574,410.5 580,412 590,413.5 605,414.5 632,415"/>
<rect x="443" y="420" width="16" height="3" fill="#000"/>
<rect x="563" y="420" width="16" height="3" fill="#000"/>
<text x="462" y="358" style="font-size:6.5px;fill:#222">A184V control</text>
<text x="462" y="366" style="font-size:6.5px;fill:#3aaac8">A184V+TeNT</text>
<text x="585" y="356" style="font-size:6.5px;fill:#222">V857 control</text>
<text x="585" y="364" style="font-size:6.5px;fill:#3aaac8">V857+TeNT</text>
<text x="568" y="371" text-anchor="middle" style="font-size:8px;font-weight:bold;fill:#111">**</text>
<polyline fill="none" stroke="#e89090" stroke-width="4" opacity=".55" points="424,524 445,524 447,521 449,513 451,505 454,498.4 458,500.5 463,504.5 469,508.5 476,512 484,515 493,517.5 502,519.3 512,520.8"/>
<polyline fill="none" stroke="#333" stroke-width=".9" points="424,524 445,524 447,521.5 449,514 451,506 454,499.5 458,501.5 463,505.5 469,509.3 476,512.6 484,515.5 493,517.9 502,519.6 512,521"/>
<polyline fill="none" stroke="#c84040" stroke-width="1" points="424,524 445,524 447,521 449,513 451,505 454,498.4 458,500.5 463,504.5 469,508.5 476,512 484,515 493,517.5 502,519.3 512,520.8"/>
<polyline fill="none" stroke="#f0a0a0" stroke-width="6" opacity=".6" points="546,524 557,524 559,521 561,510 563,490 565,472 567,463 570,467 574,475 580,485 588,495 597,504 606,510 615,514.5 624,517.5 632,519.5"/>
<polyline fill="none" stroke="#d03c3c" stroke-width="1.1" points="546,524 557,524 559,521 561,510 563,490 565,472 567,463 570,467 574,475 580,485 588,495 597,504 606,510 615,514.5 624,517.5 632,519.5"/>
<polyline fill="none" stroke="#bbb" stroke-width="4" opacity=".6" points="546,524 558,524 561,519 564,510 567,504.5 571,507 576,511 583,514.5 592,517.5 602,520 615,521.8 632,522.8"/>
<polyline fill="none" stroke="#111" stroke-width="1" points="546,524 558,524 561,519 564,510 567,504.5 571,507 576,511 583,514.5 592,517.5 602,520 615,521.8 632,522.8"/>
<rect x="445" y="529" width="30" height="3" fill="#000"/>
<rect x="558" y="529" width="30" height="3" fill="#000"/>
<text x="452" y="459" style="font-size:6.5px;fill:#222">A184V 1.3 mM Ca²⁺</text>
<text x="452" y="467" style="font-size:6.5px;fill:#d04848">A184V 3.5 mM Ca²⁺</text>
<text x="573" y="458" style="font-size:6.5px;fill:#222">v857 1.3 mM Ca²⁺</text>
<text x="573" y="466" style="font-size:6.5px;fill:#d04848">v857 3.5 mM Ca²⁺</text>
<text x="562" y="461" text-anchor="middle" style="font-size:8px;font-weight:bold;fill:#111">**</text>
</svg>
</body></html>
